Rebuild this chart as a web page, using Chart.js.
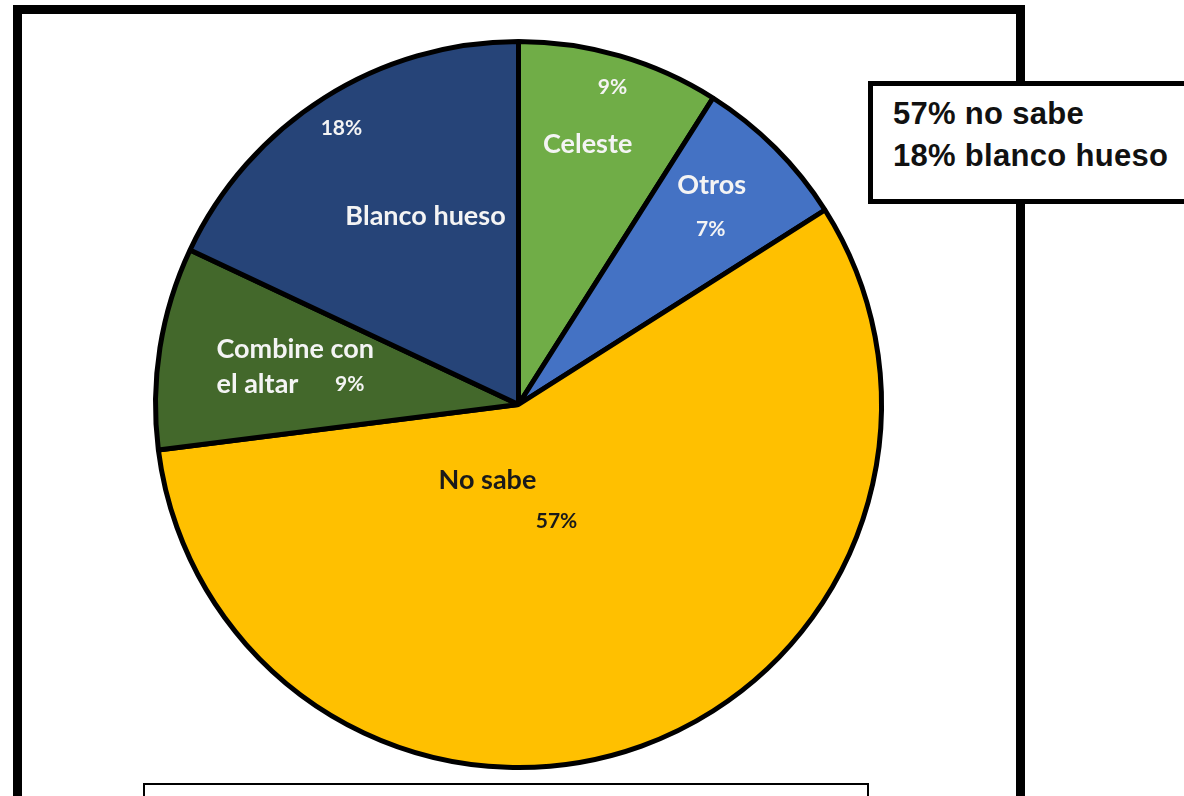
<!DOCTYPE html>
<html>
<head>
<meta charset="utf-8">
<script src="https://cdn.jsdelivr.net/npm/chart.js@4"></script>
<style>
  html, body { margin: 0; padding: 0; background: #fff; }
  #page { position: relative; width: 1184px; height: 796px; overflow: hidden; background: #fff; }
  #frame { position: absolute; left: 13px; top: 5px; width: 994px; height: 820px; border: 9px solid #000; }
  #chartBox { position: absolute; left: 0; top: 0; width: 1184px; height: 796px; }
  #note { position: absolute; left: 868px; top: 81px; width: 340px; height: 123px; box-sizing: border-box; padding-top: 7px;
          border: 5px solid #000; background: #fff;
          font-family: "Liberation Sans", Arial, sans-serif; font-weight: bold; font-size: 31px; line-height: 42px;
          letter-spacing: 0.3px; color: #111; }
  #note div { padding-left: 20px; white-space: nowrap; }
  #bottomBox { position: absolute; left: 143px; top: 783px; width: 722px; height: 40px; border: 2px solid #000; background: #fff; }
</style>
</head>
<body>
<div id="page">
  <div id="frame"></div>
  <div id="chartBox"><canvas id="pie"></canvas></div>
  <div id="note">
    <div>57% no sabe</div>
    <div>18% blanco hueso</div>
  </div>
  <div id="bottomBox"></div>
</div>
<script>
// Datos del gráfico
const categorias = ['Celeste', 'Otros', 'No sabe', 'Combine con el altar', 'Blanco hueso'];
const porcentajes = [9, 7, 57, 9, 18];
const colores = ['#70AD47', '#4472C4', '#FFC000', '#43682B', '#264478'];
const coloresTexto = ['#f4f4f4', '#f4f4f4', '#1a1a1a', '#f4f4f4', '#f4f4f4'];

// Posición de las etiquetas (ángulo en grados desde arriba, radio relativo)
const etiquetas = [
  { nombre: ['Celeste'], a: 14.9, r: 0.737, pa: 16.5, pr: 0.906 },
  { nombre: ['Otros'], a: 41.4, r: 0.80, pa: 47.7, pr: 0.712 },
  { nombre: ['No sabe'], a: 202.2, r: 0.225, pa: 162, pr: 0.337 },
  { nombre: ['Combine con', 'el altar'], a: 280.3, r: 0.841, pa: 277, pr: 0.466, left: true },
  { nombre: ['Blanco hueso'], a: 333.7, r: 0.575, pa: 327.3, pr: 0.898 }
];

const pieLabels = {
  id: 'pieLabels',
  afterDatasetsDraw(chart) {
    const ctx = chart.ctx;
    const arcs = chart.getDatasetMeta(0).data;
    const cx = arcs[0].x, cy = arcs[0].y;
    const R = arcs[0].outerRadius + 2;
    const punto = (ang, rf) => {
      const t = ang * Math.PI / 180;
      return [cx + Math.sin(t) * rf * R, cy - Math.cos(t) * rf * R];
    };
    ctx.save();
    ctx.textBaseline = 'middle';
    etiquetas.forEach((e, i) => {
      ctx.fillStyle = coloresTexto[i];
      // nombre de la categoría
      ctx.font = 'bold 27px Lato, "Open Sans", sans-serif';
      ctx.textAlign = e.left ? 'left' : 'center';
      const [nx, ny] = punto(e.a, e.r);
      e.nombre.forEach((linea, k) => ctx.fillText(linea, nx, ny + k * 35));
      // porcentaje
      ctx.font = 'bold 21px Lato, "Open Sans", sans-serif';
      ctx.textAlign = 'center';
      const [px, py] = punto(e.pa, e.pr);
      ctx.fillText(porcentajes[i] + '%', px, py);
    });
    ctx.restore();
  }
};

new Chart(document.getElementById('pie'), {
  type: 'pie',
  data: {
    labels: categorias,
    datasets: [{
      data: porcentajes,
      backgroundColor: colores,
      borderColor: '#000',
      borderWidth: 5
    }]
  },
  options: {
    responsive: true,
    maintainAspectRatio: false,
    animation: false,
    layout: { padding: { left: 153, top: 39, right: 300, bottom: 26 } },
    plugins: {
      legend: { display: false },
      tooltip: { enabled: false }
    }
  },
  plugins: [pieLabels]
});
</script>
</body>
</html>
